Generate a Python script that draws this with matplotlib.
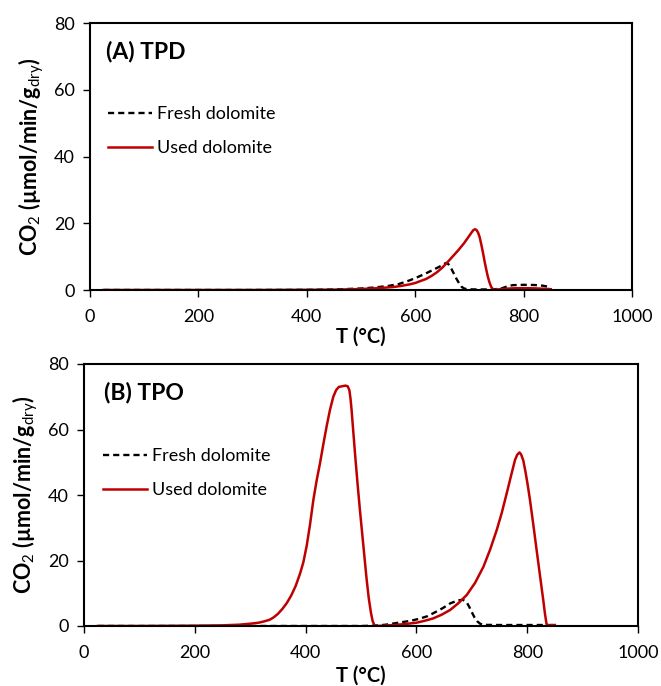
import numpy as np
import matplotlib
matplotlib.use("Agg")
import matplotlib.pyplot as plt

plt.rcParams['font.family'] = ['Lato', 'DejaVu Sans']
plt.rcParams['mathtext.fontset'] = 'custom'
plt.rcParams['mathtext.rm'] = 'Lato'
plt.rcParams['mathtext.bf'] = 'Lato:bold'

RED = "#C00000"

# (A) TPD
tpd_fresh_T = [25, 100, 200, 300, 400, 450, 500, 525, 550, 570, 590, 605, 620, 635, 645, 652, 657,
               661, 666, 671, 676, 681, 686, 691, 698, 720, 745, 758, 765, 772, 780, 800, 820,
               835, 845, 850]
tpd_fresh_v = [0, 0, 0, 0, 0.05, 0.15, 0.45, 0.75, 1.2, 1.8, 2.9, 3.9, 5.0, 6.2, 7.0, 7.7, 8.1,
               7.8, 6.6, 5.0, 3.4, 2.0, 0.9, 0.4, 0.2, 0.15, 0.2, 0.4, 0.8, 1.2, 1.45, 1.55, 1.5,
               1.3, 1.0, 0.7]

tpd_used_T = [25, 100, 200, 300, 400, 450, 480, 500, 520, 540, 560, 575, 590, 600, 610, 620, 630,
              640, 650, 660, 670, 680, 690, 697, 703, 707, 710, 713, 716, 719, 722, 725, 728, 731,
              734, 737, 740, 743, 747, 755, 765, 780, 800, 820, 840, 850]
tpd_used_v = [0, 0, 0, 0, 0.05, 0.1, 0.2, 0.3, 0.45, 0.65, 0.9, 1.25, 1.7, 2.1, 2.7, 3.3, 4.2,
              5.3, 6.7, 8.4, 10.2, 12.0, 14.0, 15.6, 17.0, 17.9, 18.2, 18.0, 17.2, 15.8, 13.6, 11.2,
              8.6, 6.2, 4.0, 2.3, 1.0, 0.3, 0.1, 0.2, 0.35, 0.5, 0.55, 0.5, 0.35, 0.25]

# (B) TPO
tpo_fresh_T = [25, 100, 200, 300, 400, 500, 525, 545, 560, 575, 590, 605, 620, 635, 648, 661, 670,
               678, 684, 690, 695, 700, 705, 710, 715, 720, 750, 800, 850]
tpo_fresh_v = [0, 0, 0, 0, 0, 0, 0.1, 0.4, 0.8, 1.2, 1.6, 2.2, 3.0, 4.3, 5.5, 6.9, 7.5,
               7.9, 8.0, 7.4, 6.0, 4.2, 2.6, 1.4, 0.7, 0.35, 0.3, 0.3, 0.3]

tpo_used_T = [25, 100, 200, 250, 280, 300, 315, 325, 335, 342, 350, 358, 366, 374, 382, 390, 396,
              402, 408, 414, 420, 426, 432, 438, 444, 450, 455, 460, 466, 472, 476, 479, 481, 483,
              486, 490, 494, 498, 502, 506, 510, 514, 518, 521, 524, 527, 540, 560, 580, 600, 615,
              630, 645, 661, 676, 691, 706, 721, 733, 745, 754, 763, 771, 778, 782, 786, 789, 793,
              797, 801, 805, 811, 817, 823, 829, 832, 835, 838, 850]
tpo_used_v = [0, 0, 0.1, 0.2, 0.4, 0.7, 1.0, 1.4, 1.9, 2.6, 3.7, 5.2, 7.0, 9.3, 12.2, 16.0, 19.5,
              24.5, 31, 38.5, 44.5, 49.7, 55.5, 61, 66, 70, 72, 73, 73.2, 73.4, 73.2, 72, 69.5, 66,
              59.5, 51, 43, 35.5, 28.5, 21.5, 14.5, 8.5, 4, 1.5, 0.3, 0, 0.1, 0.3, 0.6, 1.0, 1.6,
              2.3, 3.4, 4.9, 7.0, 9.5, 13.2, 18.1, 23.3, 29.3, 34.5, 40.5, 46, 50.7, 52.3, 53.0, 52.4,
              50.5, 47, 43, 38.5, 31, 23.2, 15.5, 7.9, 3.8, 0.5, 0.2, 0.3]

panels = [
    ("(A) TPD", tpd_fresh_T, tpd_fresh_v, tpd_used_T, tpd_used_v, [90, 23, 632, 290],
     (0.0295, 0.8925), (108, 106), 1),
    ("(B) TPO", tpo_fresh_T, tpo_fresh_v, tpo_used_T, tpo_used_v, [84, 364, 638, 626],
     (0.036, 0.893), (103, 448), 3),
]

W, H = 661, 686
fig = plt.figure(figsize=(W / 100, H / 100), dpi=100)

for title, fT, fv, uT, uv, box, tpos, lpos, xpad in panels:
    l, t, r, b = box
    ax = fig.add_axes([l / W, 1 - b / H, (r - l) / W, (b - t) / H])
    ax.plot(fT, fv, color="black", lw=1.7, linestyle=(0, (2.6, 1.7)), label="Fresh dolomite")
    ax.plot(uT, uv, color=RED, lw=1.8, label="Used dolomite")
    ax.set_xlim(0, 1000)
    ax.set_ylim(0, 80)
    ax.set_xticks(range(0, 1001, 200))
    ax.set_yticks(range(0, 81, 20))
    for s in ax.spines.values():
        s.set_linewidth(1.5)
    ax.tick_params(direction="out", length=5, width=1, labelsize=13)
    ax.tick_params(axis="x", pad=9)
    ax.tick_params(axis="y", pad=6)
    ax.set_xlabel("T (°C)", fontsize=14.5, fontweight="bold", labelpad=xpad)
    ax.set_ylabel(r"CO$_2$ (µmol/min/g$_{\mathrm{dry}}$)", fontsize=15.5, fontweight="bold", labelpad=6)
    ax.text(tpos[0], tpos[1], title, transform=ax.transAxes, fontsize=16.5, fontweight="bold",
            va="center", ha="left")
    lx = (lpos[0] - l) / (r - l)
    ly = (b - lpos[1]) / (b - t)
    ax.legend(loc="upper left", bbox_to_anchor=(lx, ly), frameon=False, fontsize=13,
              handlelength=2.45, handletextpad=0.28, labelspacing=1.0, borderaxespad=0,
              borderpad=0)

fig.savefig("out.png", dpi=100)
